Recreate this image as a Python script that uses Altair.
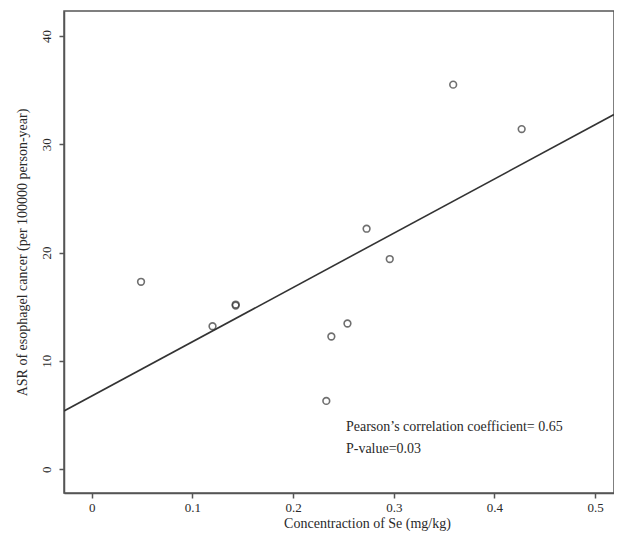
import altair as alt
import pandas as pd

# Data
se_conc = [0.049, 0.120, 0.143, 0.143, 0.233, 0.238, 0.254, 0.273, 0.296, 0.359, 0.427]
asr = [17.3, 13.2, 15.2, 15.1, 6.3, 12.25, 13.45, 22.2, 19.4, 35.5, 31.4]

x_ticks = [0, 0.1, 0.2, 0.3, 0.4, 0.5]
y_ticks = [0, 10, 20, 30, 40]
x_domain = [-0.0275, 0.5187]
y_domain = [-2.2, 42.3]

ann_lines = ["Pearson\u2019s correlation coefficient= 0.65", "P-value=0.03"]
ann_x = [0.2525, 0.2525]
ann_y = [3.9, 1.9]

df = pd.DataFrame({"se": se_conc, "asr": asr})
ann = pd.DataFrame({"x": ann_x, "y": ann_y, "t": ann_lines})

FONT = "Liberation Serif"
AX = "#555555"
TXT = "#2a2a2a"

xs = alt.Scale(domain=x_domain, nice=False, zero=False)
ys = alt.Scale(domain=y_domain, nice=False, zero=False)

x_axis = alt.Axis(
    values=x_ticks, grid=False, title="Concentraction of Se (mg/kg)", format="~g",
    labelFont=FONT, labelFontSize=13, labelColor=TXT, labelPadding=3,
    titleFont=FONT, titleFontSize=14, titleFontWeight="normal", titleColor=TXT,
    titleX=303, titleY=30, titleAlign="center", titleBaseline="middle",
    domainColor=AX, domainWidth=1.5, tickColor=AX, tickWidth=1.5, tickSize=5,
    labelFlush=False,
)
y_axis = alt.Axis(
    values=y_ticks, grid=False, title="ASR of esophagel cancer (per 100000 person-year)",
    labelFont=FONT, labelFontSize=13, labelColor=TXT, labelAngle=-90,
    labelAlign="center", labelBaseline="bottom", labelPadding=6,
    titleFont=FONT, titleFontSize=14, titleFontWeight="normal", titleColor=TXT,
    titleX=-42, titleBaseline="middle", titleAngle=-90,
    domainColor=AX, domainWidth=1.5, tickColor=AX, tickWidth=1.5, tickSize=5,
    labelFlush=False,
)

points = alt.Chart(df).mark_point(
    shape="circle", filled=False, size=45, strokeWidth=1.6, color="#333333"
).encode(
    x=alt.X("se:Q", scale=xs, axis=x_axis),
    y=alt.Y("asr:Q", scale=ys, axis=y_axis),
)

fit = alt.Chart(df).transform_regression(
    "se", "asr", extent=x_domain
).mark_line(color="#333333", strokeWidth=1.6, clip=True).encode(
    x=alt.X("se:Q", scale=xs),
    y=alt.Y("asr:Q", scale=ys),
)

text = alt.Chart(ann).mark_text(
    align="left", baseline="middle", font=FONT, fontSize=14, color=TXT
).encode(
    x=alt.X("x:Q", scale=xs),
    y=alt.Y("y:Q", scale=ys),
    text="t:N",
)

chart = alt.layer(fit, points, text).properties(
    width=550, height=482,
    autosize=alt.AutoSizeParams(type="none"),
    padding={"left": 56, "top": 3, "right": 0, "bottom": 38},
).configure_view(
    stroke=AX, strokeWidth=1.5
)

chart.save("out.html", embed_options={"renderer": "svg", "actions": False})
